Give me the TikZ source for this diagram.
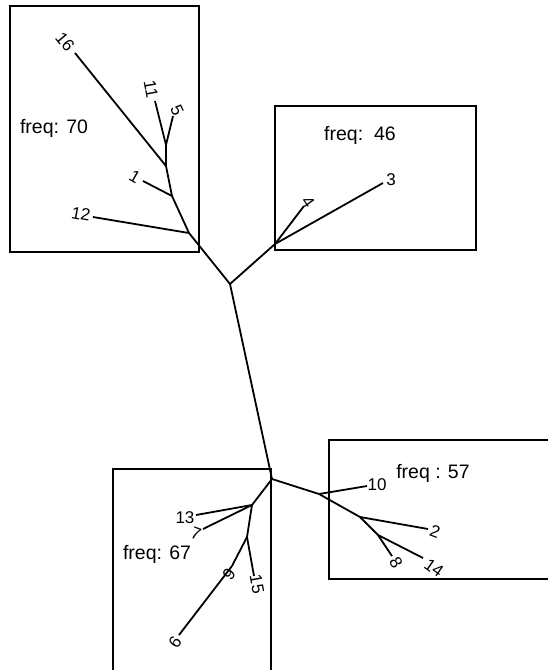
\documentclass[tikz,border=0pt]{standalone}
\usepackage{fontspec}
\setmainfont{Liberation Sans}
\usetikzlibrary{positioning}

\tikzset{
    branch/.style={line width=1.8pt},
    clade/.style={line width=1.1pt},
    tip/.style={font=\fontsize{17}{17}\selectfont, inner sep=0pt},
    freq/.style={font=\fontsize{19.5}{19.5}\selectfont, inner sep=0pt}
}

\begin{document}
\begin{tikzpicture}[x=1pt,y=-1pt]
            \useasboundingbox (0,0) rectangle (548,670);

            % internal points
            \coordinate (A) at (230,284);
            \coordinate (B) at (189,233);
            \coordinate (C) at (172,196);
            \coordinate (D) at (166,166);
            \coordinate (E) at (166,145);
            \coordinate (F) at (275,244);
            \coordinate (G) at (272,479);
            \coordinate (H) at (319,494);
            \coordinate (I) at (360,517);
            \coordinate (J) at (378,535);
            \coordinate (K) at (252,505);
            \coordinate (L) at (247,537);
            \coordinate (M) at (232,566);

            % tips
            \coordinate (t16) at (75,53);
            \coordinate (t11) at (155,101);
            \coordinate (t5) at (173,116);
            \coordinate (t1) at (143,181);
            \coordinate (t12) at (93,217);
            \coordinate (t4) at (304,206);
            \coordinate (t3) at (383,183);
            \coordinate (t10) at (367,486);
            \coordinate (t2) at (428,529);
            \coordinate (t8) at (392,556);
            \coordinate (t14) at (423,558);
            \coordinate (t13) at (196,515);
            \coordinate (t7) at (203,529);
            \coordinate (t15) at (254,576);
            \coordinate (t6) at (179,635);

            % boxes
            \draw[clade] (10,6) rectangle (199,252);
            \draw[clade] (275,106) rectangle (476,250);
            \draw[clade] (113,469) rectangle (271,672);
            \draw[clade] (329,440) rectangle (550,579);

            \node[freq] (f70) at (54,128) {freq: 70};
            \node[freq] (f46) at (360,135) {freq:\ \ 46};
            \node[freq] (f57) at (433,473) {freq : 57};
            \node[freq] (f67) at (157,554) {freq: 67};

            \node[tip, rotate=-50] (n16) at (65,42) {16};
            \node[tip, rotate=-80] (n11) at (151,89) {11};
            \node[tip, rotate=-65] (n5) at (177,110) {5};
            \node[tip, rotate=-30] (n1) at (135,177) {1};
            \node[tip, rotate=-10] (n12) at (81,214) {12};
            \node[tip, rotate=-55] (n4) at (308,202) {4};
            \node[tip] (n3) at (391,180) {3};
            \node[tip] (n10) at (377,485) {10};
            \node[tip, rotate=-20] (n2) at (435,532) {2};
            \node[tip, rotate=-60] (n8) at (396,563) {8};
            \node[tip, rotate=-35] (n14) at (434,568) {14};
            \node[tip] (n13) at (185,518) {13};
            \node[tip, rotate=-20] (n7) at (196,534) {7};
            \node[tip, rotate=-80] (n15) at (257,584) {15};
            \node[tip, rotate=55] (n9) at (229,574) {9};
            \node[tip, rotate=55] (n6) at (175,642) {6};

            \draw[branch] (A)--(B);
            \draw[branch] (B)--(C);
            \draw[branch] (C)--(D);
            \draw[branch] (D)--(E);
            \draw[branch] (E)--(t11);
            \draw[branch] (E)--(t5);
            \draw[branch] (D)--(t16);
            \draw[branch] (C)--(t1);
            \draw[branch] (B)--(t12);
            \draw[branch] (A)--(F);
            \draw[branch] (F)--(t4);
            \draw[branch] (F)--(t3);
            \draw[branch] (A)--(G);
            \draw[branch] (G)--(H);
            \draw[branch] (H)--(t10);
            \draw[branch] (H)--(I);
            \draw[branch] (I)--(t2);
            \draw[branch] (I)--(J);
            \draw[branch] (J)--(t8);
            \draw[branch] (J)--(t14);
            \draw[branch] (G)--(K);
            \draw[branch] (K)--(t13);
            \draw[branch] (K)--(t7);
            \draw[branch] (K)--(L);
            \draw[branch] (L)--(t15);
            \draw[branch] (L)--(M);
            \draw[branch] (M)--(t6);
        \end{tikzpicture}
\end{document}
